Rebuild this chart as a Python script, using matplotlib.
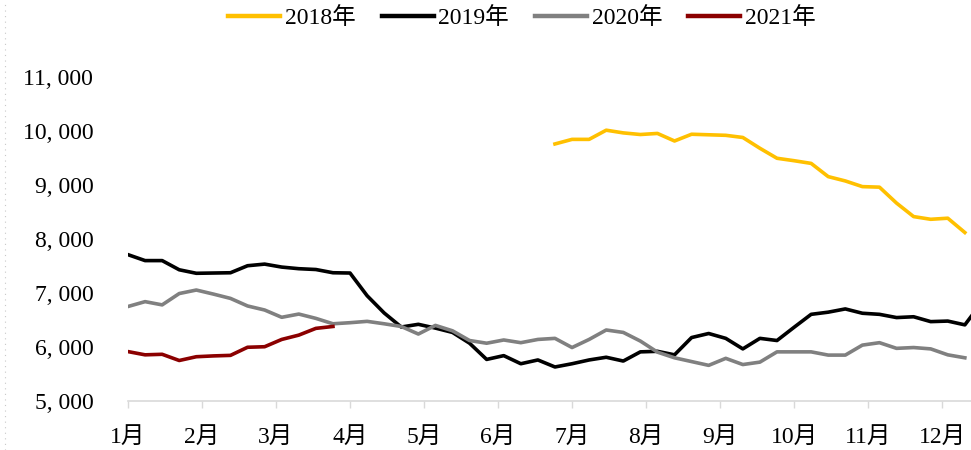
import numpy as np
import matplotlib
matplotlib.use('Agg')
import matplotlib.pyplot as plt
from matplotlib.lines import Line2D

plt.rcParams['font.family'] = ['Liberation Serif', 'Noto Sans CJK SC']

# weekly prices, one list per year; first_week = index of the first weekly point
months = ['1月', '2月', '3月', '4月', '5月', '6月', '7月', '8月', '9月', '10月', '11月', '12月']

first_week_2018 = 25
price_2018 = [9760, 9845, 9845, 10015, 9965, 9935, 9955, 9815, 9940, 9930,
              9920, 9880, 9680, 9495, 9450, 9400, 9155, 9075, 8970, 8960,
              8665, 8415, 8365, 8385, 8120]

first_week_2019 = 0
price_2019 = [7710, 7600, 7600, 7430, 7365, 7370, 7375, 7505, 7535, 7480,
              7450, 7435, 7375, 7370, 6950, 6630, 6370, 6420, 6350, 6270,
              6070, 5770, 5840, 5690, 5760, 5630, 5690, 5760, 5810, 5740,
              5910, 5920, 5855, 6175, 6250, 6160, 5965, 6160, 6120, 6365,
              6605, 6645, 6705, 6625, 6605, 6545, 6560, 6470, 6480, 6410,
              6830]

first_week_2020 = 0
price_2020 = [6750, 6840, 6780, 6990, 7055, 6980, 6900, 6760, 6685, 6550,
              6610, 6530, 6430, 6450, 6475, 6430, 6380, 6240, 6400, 6300,
              6120, 6070, 6130, 6080, 6140, 6160, 5990, 6140, 6315, 6270,
              6110, 5905, 5800, 5730, 5660, 5790, 5675, 5720, 5910, 5910,
              5910, 5850, 5850, 6035, 6080, 5975, 5990, 5965, 5855, 5800]

first_week_2021 = 0
price_2021 = [5915, 5855, 5865, 5750, 5820, 5835, 5845, 5995, 6005, 6140,
              6220, 6345, 6380]

years = ['2018年', '2019年', '2020年', '2021年']
colors = ['#FFC000', '#000000', '#808080', '#8B0000']

fig = plt.figure(figsize=(9.71, 4.5), dpi=100)
ax = fig.add_axes([128 / 971, 49 / 450, 843 / 971, 324 / 450])

series = [(first_week_2018, price_2018), (first_week_2019, price_2019),
          (first_week_2020, price_2020), (first_week_2021, price_2021)]
for (start, vals), name, c in zip(series, years, colors):
    x = np.arange(start, start + len(vals))
    ax.plot(x, vals, color=c, lw=2.6, label=name)

ax.set_xlim(0, 49.36)
ax.set_ylim(5000, 11000)

ax.set_yticks(np.arange(5000, 11001, 1000))
ax.set_yticklabels([f'{v:,}'.replace(',', ', ') for v in range(5000, 11001, 1000)])
ax.set_xticks(np.arange(12) * 52 / 12)
ax.set_xticklabels(months)

for s in ['top', 'right', 'left']:
    ax.spines[s].set_visible(False)
ax.spines['bottom'].set_color('#D9D9D9')
ax.spines['bottom'].set_linewidth(1.2)
ax.tick_params(axis='y', length=0, pad=25, labelsize=17)
ax.tick_params(axis='x', length=5, width=1, color='#D9D9D9', pad=14, labelsize=17)

leg = fig.legend(loc='center', bbox_to_anchor=(522 / 971, 1 - 18 / 450), ncol=4,
                 frameon=False, fontsize=17, handlelength=2.2, handletextpad=0.2,
                 columnspacing=1.1)
for h in leg.legend_handles:
    h.set_linewidth(3.2)

# dotted frame edge on the left
fig.add_artist(Line2D([5 / 971, 5 / 971], [0, 1], transform=fig.transFigure,
                      color='#C8C8C8', lw=0.8, ls=(0, (1, 4))))

fig.savefig('out.png', dpi=100)
